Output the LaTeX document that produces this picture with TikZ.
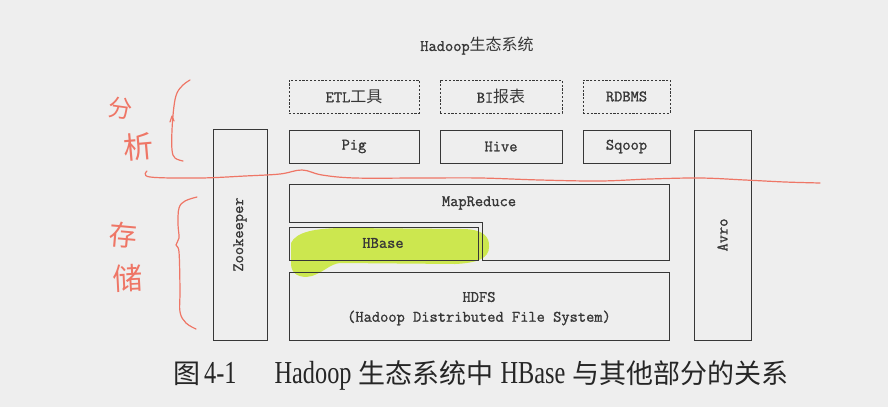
\documentclass[tikz,border=0pt]{standalone}
\usepackage{fontspec}
\newfontfamily\diagfont{Latin Modern Mono}[FakeBold=1.2]
\newfontfamily\cjk{Noto Sans CJK SC}
\newfontfamily\capfont{Liberation Serif}[FakeStretch=0.76]
\usetikzlibrary{calc}
\definecolor{page}{RGB}{238,238,238}
\definecolor{ink}{RGB}{55,55,55}
\definecolor{pen}{RGB}{238,118,102}
\definecolor{marker}{RGB}{196,230,40}
\tikzset{
  box/.style={draw=ink, line width=0.8pt, inner sep=0pt, text=ink,
    font=\fontsize{16}{18}\selectfont\diagfont},
  toolbox/.style={box, dash pattern=on 2.2pt off 1.6pt},
  label/.style={text=ink, inner sep=0pt, font=\fontsize{16}{18}\selectfont\diagfont},
  penline/.style={draw=pen, line width=1.2pt, line cap=round, line join=round},
  pentext/.style={text=pen, inner sep=0pt},
}
\newcommand{\capcjk}[1]{{\cjk\fontsize{27}{29}\selectfont #1}}
\newcommand{\caplat}[1]{{\capfont\fontsize{32}{34}\selectfont #1}}
\begin{document}
\begin{tikzpicture}[x=1pt, y=-1pt]
  % page
  \fill[page] (0,0) rectangle (888,407);
  \useasboundingbox (0,0) rectangle (888,407);

  % highlighter stroke over HBase
  \fill[marker, opacity=0.8]
    (291,243) .. controls (296,232) and (315,228) .. (345,228)
    -- (462,229) .. controls (482,229) and (490,236) .. (489,247)
    .. controls (489,258) and (478,263) .. (455,264)
    -- (340,263) .. controls (330,264) and (324,272) .. (312,276)
    .. controls (300,279) and (291,274) .. (291,264) -- cycle;

  % title
  \node[label] (title) at (477,46) {Hadoop{\cjk 生态系统}};

  % external tools (dashed)
  \node[toolbox, minimum width=130pt, minimum height=33pt] (etl) at (354,96.5) {ETL{\cjk 工具}};
  \node[toolbox, minimum width=122pt, minimum height=33pt] (bi) at (501,96.5) {BI{\cjk 报表}};
  \node[toolbox, minimum width=87pt, minimum height=33pt] (rdbms) at (626.5,96.5) {RDBMS};

  % analysis layer
  \node[box, minimum width=130pt, minimum height=33pt] (pig) at (354,146.5) {Pig};
  \node[box, minimum width=122pt, minimum height=33pt] (hive) at (501,146.5) {Hive};
  \node[box, minimum width=87pt, minimum height=33pt] (sqoop) at (626.5,146.5) {Sqoop};

  % side columns
  \node[box, minimum width=54pt, minimum height=211pt] (zk) at (240,234.5) {};
  \node[label, rotate=90] (zklabel) at (zk.center) {Zookeeper};
  \node[box, minimum width=57pt, minimum height=210pt] (avro) at (722.5,235) {};
  \node[label, rotate=90] (avrolabel) at (avro.center) {Avro};

  % MapReduce (L-shaped, wraps around HBase)
  \draw[ink, line width=0.8pt] (289,184) -- (669,184) -- (669,260) -- (482,260)
    -- (482,222) -- (289,222) -- cycle;
  \node[label] (mr) at (479,203) {MapReduce};

  % HBase
  \node[box, minimum width=189pt, minimum height=33pt] (hbase) at (383.5,243.5) {};
  \node[label] (hbaselabel) at (383,243) {HBase};

  % HDFS
  \node[box, minimum width=380pt, minimum height=68pt] (hdfs) at (479,306) {};
  \node[label] (hdfsname) at (479,297) {HDFS};
  \node[label] (hdfsfull) at (479,318) {(Hadoop Distributed File System)};

  % caption
  \node[text=black!85, inner sep=0pt, anchor=west] (caption) at (173,376)
    {\capcjk{图}\hspace{4pt}\caplat{4-1}\hspace{38pt}\caplat{Hadoop}\hspace{7pt}\capcjk{生态系统中}\hspace{7pt}\caplat{HBase}\hspace{7pt}\capcjk{与其他部分的关系}};

  % pen notes: split between analysis and storage
  \draw[penline] plot[smooth, tension=0.6] coordinates {
    (147,171) (150,177) (200,178) (245,176) (280,174) (302,170) (322,175)
    (355,178) (420,178) (480,178) (540,180) (600,181) (650,179)
    (700,178) (745,180) (785,182) (820,183)};
  \draw[penline] plot[smooth, tension=0.6] coordinates {
    (190,80) (183,85) (177,93) (174,106) (172,130) (172,150) (175,158) (183,161)};
  \draw[penline] (170,122) -- (172,116) -- (174,121);
  \draw[penline] plot[smooth, tension=0.6] coordinates {
    (197,197) (185,201) (179,208) (178,224) (179,238) (176,245) (179,252)
    (180,290) (180,312) (186,323) (196,329)};
  \node[pentext, font=\cjk\fontsize{24}{24}\selectfont, rotate=-8] (fen) at (121,108) {分};
  \node[pentext, font=\cjk\fontsize{30}{30}\selectfont, rotate=5] (xi) at (138,147) {析};
  \node[pentext, font=\cjk\fontsize{28}{28}\selectfont, rotate=-5] (cun) at (123,235) {存};
  \node[pentext, font=\cjk\fontsize{30}{30}\selectfont, rotate=3] (chu) at (128,278) {储};
\end{tikzpicture}
\end{document}
